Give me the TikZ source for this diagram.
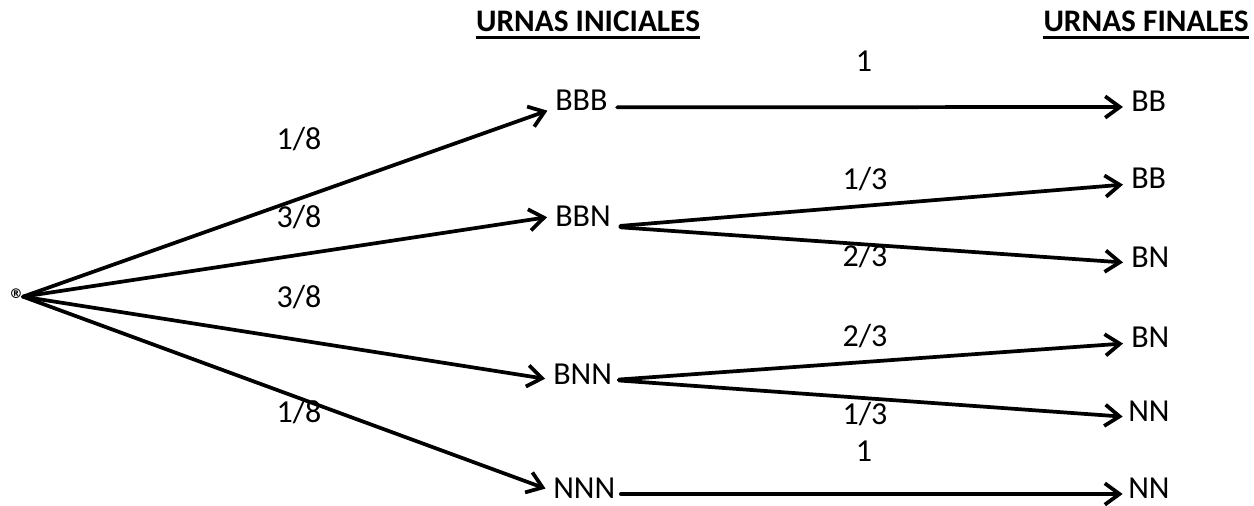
\documentclass[tikz,border=0pt]{standalone}
\usepackage{fontspec}
\setmainfont{Carlito}
\newfontfamily\symfont{DejaVu Sans}
\usetikzlibrary{arrows.meta}
\begin{document}
\begin{tikzpicture}[x=0.75pt,y=-0.75pt,
  txt/.style={font=\fontsize{24}{28}\selectfont, inner sep=0pt, text height=1.38ex, text depth=0pt},
  urn/.style={txt, anchor=west},
  lab/.style={txt, anchor=center},
  head/.style={txt, font=\fontsize{23.5}{28}\selectfont\bfseries},
  arr/.style={line width=2.8pt, line cap=round, -{Straight Barb[length=11pt,width=16pt,line width=2.8pt]}},
  uline/.style={line width=2.3pt}]
\useasboundingbox (0,0) rectangle (1254,506);
% headings
\node[head] (h1) at (588,27) {URNAS INICIALES};
\node[head] (h2) at (1146,27) {URNAS FINALES};
\draw[uline] ([yshift=-4.5pt]h1.south west) -- ([yshift=-4.5pt]h1.south east);
\draw[uline] ([yshift=-4.5pt]h2.south west) -- ([yshift=-4.5pt]h2.south east);
% root
\node[anchor=east, inner sep=0pt, font=\symfont\bfseries\fontsize{10}{10}\selectfont] (r) at (23,294) {®};
% initial urns
\node[urn] (bbb) at (555,106) {BBB};
\node[urn] (bbn) at (555,222) {BBN};
\node[urn] (bnn) at (553,380) {BNN};
\node[urn] (nnn) at (553,494) {NNN};
% final urns
\node[urn] (f1) at (1131,107) {BB};
\node[urn] (f2) at (1131,184) {BB};
\node[urn] (f3) at (1131,263) {BN};
\node[urn] (f4) at (1131,343) {BN};
\node[urn] (f5) at (1128,417) {NN};
\node[urn] (f6) at (1128,494) {NN};
% first stage
\draw[arr, shorten >=6pt] ([yshift=-2pt]r.east) -- ([yshift=-1.5pt]bbb.west);
\draw[arr, shorten >=6pt] ([yshift=-2pt]r.east) -- ([yshift=4.5pt]bbn.west);
\draw[arr, shorten >=6pt] ([yshift=-2pt]r.east) -- (bnn.west);
\draw[arr, shorten >=6pt] ([yshift=-2pt]r.east) -- ([yshift=2pt]nnn.west);
% second stage
\draw[arr, shorten <=7pt, shorten >=6pt] ([yshift=-1pt]bbb.east) -- (f1.west);
\draw[arr, shorten <=7pt, shorten >=6pt] ([yshift=-3.5pt]bbn.east) -- (f2.west);
\draw[arr, shorten <=7pt, shorten >=6pt] ([yshift=-3.5pt]bbn.east) -- (f3.west);
\draw[arr, shorten <=5pt, shorten >=6pt] (bnn.east) -- (f4.west);
\draw[arr, shorten <=5pt, shorten >=4pt] (bnn.east) -- (f5.west);
\draw[arr, shorten <=4pt, shorten >=4pt] (nnn.east) -- (f6.west);
% probability labels
\node[lab] (p1) at (299,145) {1/8};
\node[lab] (p2) at (299,223) {3/8};
\node[lab] (p3) at (299,303) {3/8};
\node[lab] (p4) at (299,418) {1/8};
\node[lab] (q1) at (864,67) {1};
\node[lab] (q2) at (865,185) {1/3};
\node[lab] (q3) at (865,262) {2/3};
\node[lab] (q4) at (865,342) {2/3};
\node[lab] (q5) at (865,420) {1/3};
\node[lab] (q6) at (864,457) {1};
\end{tikzpicture}
\end{document}
